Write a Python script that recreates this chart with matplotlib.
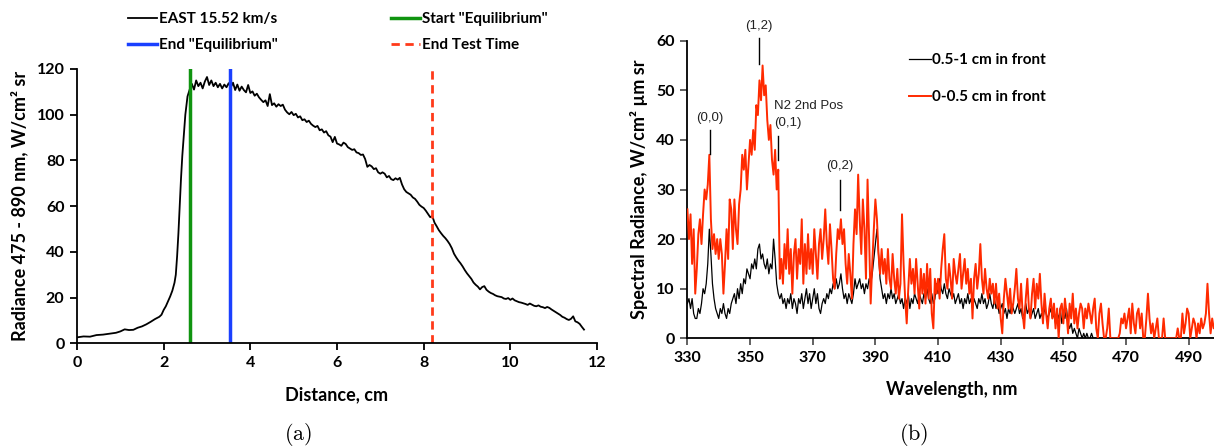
import numpy as np
import matplotlib
matplotlib.use("Agg")
import matplotlib.pyplot as plt
from matplotlib.lines import Line2D

plt.rcParams["font.family"] = ["Lato", "DejaVu Sans"]
plt.rcParams["mathtext.fontset"] = "cm"

# ------------------------------------------------------------
# (a) EAST radiance profile, 475 - 890 nm
# ------------------------------------------------------------
distance_cm = [
    0.00, 0.15, 0.30, 0.45, 0.60, 0.75, 0.90, 1.00, 1.10, 1.20,
    1.30, 1.40, 1.50, 1.60, 1.70, 1.80, 1.90, 1.95, 2.00, 2.05,
    2.10, 2.15, 2.20, 2.25, 2.28, 2.31, 2.34, 2.37, 2.40, 2.43,
    2.46,
    2.50, 2.55, 2.60, 2.65, 2.70, 2.75, 2.80, 2.85, 2.90, 2.95,
    3.00, 3.05, 3.10, 3.15, 3.20, 3.25, 3.30, 3.35, 3.40, 3.45,
    3.50, 3.55, 3.60, 3.65, 3.70, 3.75, 3.80, 3.85, 3.90, 3.95,
    4.00, 4.05, 4.10, 4.15, 4.20, 4.25, 4.30, 4.35, 4.40, 4.45,
    4.50, 4.55, 4.60, 4.65, 4.70, 4.75, 4.80, 4.85, 4.90, 4.95,
    5.00, 5.05, 5.10, 5.15, 5.20, 5.25, 5.30, 5.35, 5.40, 5.45,
    5.50, 5.55, 5.60, 5.65, 5.70, 5.75, 5.80, 5.85, 5.90, 5.95,
    6.00, 6.05, 6.10, 6.15, 6.20, 6.25, 6.30, 6.35, 6.40, 6.45,
    6.50, 6.55, 6.60, 6.65, 6.70, 6.75, 6.80, 6.85, 6.90, 6.95,
    7.00, 7.05, 7.10, 7.15, 7.20, 7.25, 7.30, 7.35, 7.40, 7.45,
    7.50, 7.55, 7.60, 7.65, 7.70, 7.75, 7.80, 7.85, 7.90, 7.95,
    8.00, 8.05, 8.10, 8.15, 8.20, 8.25, 8.30, 8.35, 8.40, 8.45,
    8.50, 8.55, 8.60, 8.65, 8.70, 8.75, 8.80, 8.85, 8.90, 8.95,
    9.00, 9.05, 9.10, 9.15, 9.20, 9.25, 9.30, 9.35, 9.40, 9.45,
    9.50, 9.55, 9.60, 9.65, 9.70, 9.75, 9.80, 9.85, 9.90, 9.95,
    10.00, 10.05, 10.10, 10.15, 10.20, 10.25, 10.30, 10.35, 10.40, 10.45,
    10.50, 10.55, 10.60, 10.65, 10.70, 10.75, 10.80, 10.85, 10.90, 10.95,
    11.00, 11.05, 11.10, 11.15, 11.20, 11.25, 11.30, 11.35, 11.40, 11.45,
    11.50, 11.55, 11.60, 11.65, 11.70,
]
radiance_east = [
    2.6, 3.0, 2.9, 3.6, 3.8, 4.2, 4.6, 5.2, 6.1, 5.8,
    5.9, 6.8, 7.4, 8.3, 9.4, 10.6, 11.6, 12.5, 14.6, 16.2,
    18.4, 20.5, 23.0, 26.5, 30.0, 38.0, 48.0, 60.0, 72.0, 82.0,
    90.0,
    100.0, 108.0, 111.0, 113.5, 111.0, 115.0, 112.5, 114.0, 111.5, 114.5,
    116.5, 113.0, 115.0, 112.5, 114.0, 112.0, 113.5, 111.5, 113.2, 112.0,
    113.8, 112.0, 114.0, 110.8, 113.2, 110.5, 112.3, 110.8, 109.8, 113.0,
    109.5, 110.2, 108.3, 109.2, 107.6, 106.5, 105.5, 106.3, 103.8, 109.0,
    104.2, 105.0, 103.5, 104.6, 103.8, 104.4, 102.2, 101.0, 100.2, 101.2,
    99.8, 100.4, 98.8, 99.3, 97.6, 98.0, 96.8, 97.4, 96.0, 95.2,
    94.6, 95.1, 93.2, 93.6, 92.2, 92.8, 91.0, 90.4, 88.0, 90.3,
    87.4, 87.0, 86.4, 87.8, 87.2, 85.8, 85.2, 84.6, 84.9, 83.5,
    83.2, 82.4, 82.6, 80.6, 77.2, 78.0, 77.4, 76.2, 76.6, 74.8,
    74.2, 74.8, 74.2, 72.6, 73.2, 71.8, 71.4, 72.2, 71.6, 72.4,
    69.5, 67.4, 66.2, 65.6, 65.0, 63.8, 63.2, 62.0, 60.6, 59.8,
    59.2, 58.0, 56.6, 55.2, 55.6, 52.8, 51.2, 49.5, 48.2, 47.0,
    46.0, 44.8, 43.4, 41.6, 39.2, 37.6, 36.2, 35.0, 33.6, 32.0,
    30.6, 29.4, 28.2, 26.6, 25.6, 24.8, 23.6, 24.6, 25.0, 23.4,
    22.6, 22.0, 21.6, 21.0, 20.6, 20.4, 20.2, 19.6, 19.4, 19.8,
    19.0, 19.6, 18.8, 18.4, 18.0, 17.8, 17.5, 17.2, 16.8, 17.4,
    16.9, 16.4, 16.2, 16.6, 16.0, 15.8, 15.4, 15.9, 15.5, 14.8,
    14.2, 13.6, 13.0, 12.4, 11.6, 11.2, 10.6, 10.2, 10.7, 11.8,
    9.6, 9.2, 8.5, 7.2, 6.0,
]
start_equilibrium_cm = 2.6
end_equilibrium_cm = 3.53
end_test_time_cm = 8.2

# ------------------------------------------------------------
# (b) spectral radiance, sampled every 0.5 nm from 330 nm
# ------------------------------------------------------------
wavelength_start_nm = 330.0
wavelength_step_nm = 0.5

radiance_front_0_05 = [
    # 330 - 359.5
    26, 20, 25, 15, 22, 9, 14, 21, 24, 19, 25, 30, 28, 31, 37, 24, 18, 21, 17, 20,
    16, 20, 17, 9, 15, 22, 16, 28, 26, 18, 28, 22, 19, 27, 30, 37, 34, 38, 30, 35,
    40, 37, 42, 38, 47, 45, 52, 48, 55, 49, 51, 44, 40, 43, 36, 33, 38, 30, 34, 12,
    # 360 - 369.5
    16, 11, 19, 14, 22, 13, 18, 9, 17, 20, 12, 18, 15, 24, 11, 19, 13, 21, 14, 18,
    # 370 - 409.5
    13, 22, 17, 12, 19, 22, 16, 20, 26, 19, 15, 23, 18, 12, 10, 17, 22, 20, 24, 19,
    22, 15, 11, 17, 13, 8, 19, 26, 21, 33, 24, 17, 28, 22, 12, 32, 20, 7, 15, 22,
    28, 24, 17, 13, 18, 13, 16, 11, 18, 12, 10, 17, 12, 9, 14, 8, 11, 25, 15, 8,
    3, 10, 16, 11, 14, 9, 16, 11, 6, 14, 9, 13, 7, 15, 8, 14, 5, 2, 12, 9,
    # 410 - 449.5
    12, 8, 14, 18, 21, 12, 10, 15, 12, 8, 16, 13, 11, 14, 17, 10, 13, 16, 11, 14,
    9, 12, 4, 12, 15, 10, 13, 19, 12, 9, 14, 10, 8, 12, 9, 11, 7, 11, 6, 9,
    4, 1, 8, 12, 9, 6, 10, 5, 7, 10, 14, 8, 6, 11, 5, 2, 8, 12, 6, 4,
    9, 12, 6, 11, 8, 13, 7, 3, 9, 5, 2, 6, 8, 4, 7, 2, 6, 0, 6, 7,
    # 450 - 498.5
    3, 8, 5, 1, 7, 4, 9, 3, 6, 2, 5, 7, 6, 2, 6, 4, 7, 5, 3, 6,
    8, 2, 0, 5, 7, 3, 0, 0, 2, 6, 0, 0, 0, 0, 0, 0, 1, 4, 3, 5,
    2, 4, 6, 1, 7, 3, 1, 5, 6, 2, 5, 0, 0, 4, 9, 4, 1, 3, 0, 2,
    4, 0, 0, 0, 4, 0, 0, 0, 0, 0, 0, 0, 0, 2, 0, 0, 5, 1, 3, 6,
    5, 0, 2, 4, 3, 0, 3, 1, 4, 2, 3, 5, 11, 5, 1, 4, 2, 3,
]
radiance_front_05_1 = [
    # 330 - 369.5
    7, 8, 6, 8, 5, 4, 4, 6, 5, 7, 10, 9, 11, 15, 22, 17, 11, 8, 6, 5,
    4, 6, 5, 7, 5, 4, 6, 5, 7, 8, 9, 7, 10, 8, 11, 9, 12, 11, 14, 13,
    12, 15, 14, 16, 14, 18, 19, 16, 17, 15, 14, 16, 13, 15, 14, 20, 16, 11, 9, 8,
    9, 7, 8, 6, 8, 7, 9, 6, 8, 7, 5, 8, 7, 9, 6, 8, 10, 7, 9, 6,
    # 370 - 409.5
    8, 10, 7, 9, 6, 5, 7, 8, 7, 9, 8, 10, 9, 11, 10, 12, 10, 11, 13, 10,
    8, 9, 7, 9, 8, 7, 9, 12, 10, 11, 12, 10, 11, 9, 11, 10, 12, 11, 13, 16,
    19, 22, 17, 12, 10, 8, 9, 7, 9, 8, 10, 8, 9, 7, 8, 9, 7, 8, 6, 8,
    7, 9, 6, 8, 7, 9, 8, 7, 9, 8, 7, 9, 8, 10, 8, 7, 9, 7, 8, 11,
    # 410 - 449.5
    9, 12, 10, 9, 11, 9, 8, 10, 9, 8, 9, 7, 8, 9, 7, 8, 6, 8, 7, 9,
    7, 8, 6, 8, 7, 6, 8, 7, 9, 7, 8, 6, 7, 9, 7, 6, 8, 6, 7, 5,
    6, 7, 5, 6, 4, 6, 5, 7, 6, 5, 6, 7, 5, 6, 4, 5, 7, 5, 6, 4,
    5, 6, 4, 5, 6, 4, 5, 4, 6, 5, 4, 5, 6, 4, 5, 3, 5, 4, 6, 3,
    # 450 - 498.5
    5, 4, 6, 3, 2, 3, 1, 2, 1, 0, 2, 1, 0, 1, 0, 1, 0, 0, 1, 0,
    0, 0, 0, 0, 0, 0, 0, 0, 0, 0, 0, 0, 0, 0, 0, 0, 0, 0, 0, 0,
    0, 0, 0, 0, 0, 0, 0, 0, 0, 0, 0, 0, 0, 0, 0, 0, 0, 0, 0, 0,
    0, 0, 0, 0, 0, 0, 0, 0, 0, 0, 0, 0, 0, 0, 0, 0, 0, 0, 0, 0,
    0, 0, 0, 0, 0, 0, 0, 0, 0, 0, 0, 0, 0, 0, 0, 0, 0, 0,
]
wavelength_nm = wavelength_start_nm + wavelength_step_nm * np.arange(len(radiance_front_0_05))

# N2 second positive band heads: label, wavelength, text height, tick top, tick bottom
band_labels = ["(0,0)", "(1,2)", "(0,1)", "(0,2)"]
band_wavelengths = [337.1, 352.7, 359.0, 378.7]
band_text_y = [44.5, 63.0, 43.5, 34.7]
band_tick_top = [41.9, 60.6, 40.8, 31.9]
band_tick_bottom = [37.2, 55.4, 36.0, 25.9]

GREEN = "#109410"
BLUE = "#1a40ff"
RED_DASH = "#ff3a1a"
RED = "#ff2a00"

fig = plt.figure(figsize=(12.14, 4.47), dpi=100)
W, H = 1214.0, 447.0


def px_axes(x0, x1, y_top, y_bot):
    return fig.add_axes([x0 / W, 1 - y_bot / H, (x1 - x0) / W, (y_bot - y_top) / H])


def style_axes(ax, tick_color):
    for side in ("top", "right"):
        ax.spines[side].set_visible(False)
    for side in ("left", "bottom"):
        ax.spines[side].set_linewidth(1.3)
    ax.tick_params(direction="out", length=5, width=1.3, color=tick_color,
                   labelsize=11.5, pad=4)
    for lbl in ax.get_xticklabels() + ax.get_yticklabels():
        lbl.set_fontweight("bold")


# ---------------- panel (a) ----------------
ax1 = px_axes(77, 597, 69, 343.3)
ax1.plot(distance_cm, radiance_east, color="black", lw=1.3)
ax1.axvline(start_equilibrium_cm, color=GREEN, lw=2.5)
ax1.axvline(end_equilibrium_cm, color=BLUE, lw=2.5)
ax1.axvline(end_test_time_cm, color=RED_DASH, lw=2, ls=(0, (3, 2)))
ax1.set_xlim(0, 12)
ax1.set_ylim(0, 120)
ax1.set_xticks(range(0, 13, 2))
ax1.set_yticks(range(0, 121, 20))
style_axes(ax1, "black")
ax1.set_xlabel("Distance, cm", fontsize=13, fontweight="bold", labelpad=12)
ax1.set_ylabel("Radiance 475 - 890 nm, W/cm² sr", fontsize=13, fontweight="bold", labelpad=6)

legend_kw = dict(frameon=False, loc="upper left", borderpad=0, borderaxespad=0,
                 handlelength=1.9, handletextpad=0.15, labelspacing=0.8,
                 prop={"weight": "bold", "size": 11})
col1 = [Line2D([], [], color="black", lw=1.3), Line2D([], [], color=BLUE, lw=2.5)]
col2 = [Line2D([], [], color=GREEN, lw=2.5), Line2D([], [], color=RED_DASH, lw=2, ls=(0, (3, 2)))]
fig.legend(col1, ["EAST 15.52 km/s", 'End "Equilibrium"'],
           bbox_to_anchor=(128 / W, 1 - 12 / H), **legend_kw)
fig.legend(col2, ['Start "Equilibrium"', "End Test Time"],
           bbox_to_anchor=(391 / W, 1 - 12 / H), **legend_kw)

# ---------------- panel (b) ----------------
ax2 = px_axes(687.4, 687.4 + 168.8 * 3.133, 40.7, 338.3)
ax2.plot(wavelength_nm, radiance_front_05_1, color="black", lw=0.9,
         label="0.5-1 cm in front", zorder=2)
ax2.plot(wavelength_nm, radiance_front_0_05, color=RED, lw=1.4,
         label="0-0.5 cm in front", zorder=3)
ax2.set_xlim(330, 498.8)
ax2.set_ylim(0, 60)
ax2.set_xticks(range(330, 491, 20))
ax2.set_yticks(range(0, 61, 10))
style_axes(ax2, "#555555")
ax2.set_xlabel("Wavelength, nm", fontsize=13, fontweight="bold", labelpad=12)
ax2.set_ylabel("Spectral Radiance, W/cm² µm sr", fontsize=13, fontweight="bold", labelpad=6)
ax2.legend(frameon=False, loc="upper left", bbox_to_anchor=(909 / W, 1 - 53 / H),
           bbox_transform=fig.transFigure, borderpad=0, borderaxespad=0,
           handlelength=1.45, handletextpad=0.05, labelspacing=1.5,
           prop={"weight": "bold", "size": 11})

for label, wl, ty, t_top, t_bot in zip(band_labels, band_wavelengths, band_text_y,
                                       band_tick_top, band_tick_bottom):
    ax2.plot([wl, wl], [t_bot, t_top], color="black", lw=1, clip_on=False, zorder=4)
    if label == "(0,1)":
        ax2.text(wl - 1.3, ty, label, ha="left", va="center", fontsize=9.5,
                 family="Liberation Sans", color="#222222")
        ax2.text(wl - 1.3, ty + 3.3, "N2 2nd Pos", ha="left", va="center", fontsize=9.5,
                 family="Liberation Sans", color="#222222")
    else:
        ax2.text(wl, ty, label, ha="center", va="center", fontsize=9.5,
                 family="Liberation Sans", color="#222222", clip_on=False)

# sub-figure captions
fig.text(298 / W, 1 - 435 / H, r"$\mathrm{(a)}$", ha="center", va="center", fontsize=16)
fig.text(914 / W, 1 - 435 / H, r"$\mathrm{(b)}$", ha="center", va="center", fontsize=16)

fig.savefig("out.png", dpi=100)
